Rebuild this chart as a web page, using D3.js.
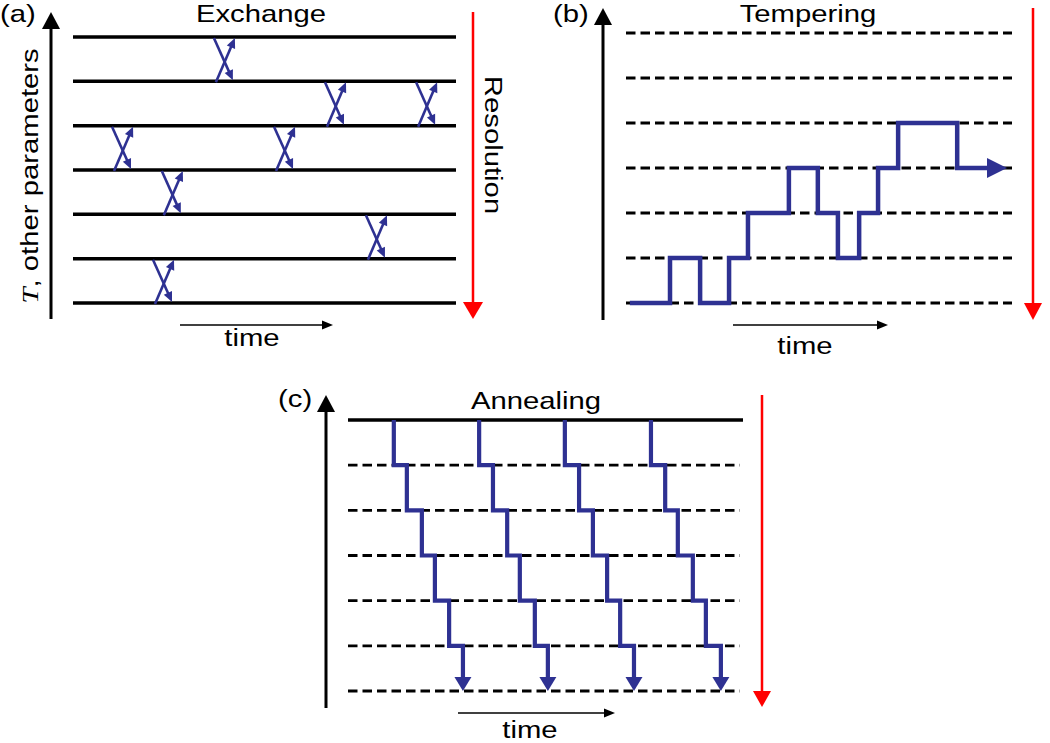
<!DOCTYPE html>
<html><head><meta charset="utf-8">
<script src="https://cdn.jsdelivr.net/npm/d3@7"></script>
<style>html,body{margin:0;padding:0;background:#fff}</style>
</head><body><svg id="c" width="1050" height="743"></svg>
<script>
// ---------------- data ----------------
const levels = [0, 1, 2, 3, 4, 5, 6];
// (a) Exchange: swap between level `lower` and `lower+1` at time t
const exchangeTimes = [39.4, 68.4, 92.2, 12.8, 55.1, 25.8, 79.1, 23.5];
const exchangeLower = [5, 4, 4, 3, 3, 2, 1, 0];
// (b) Tempering: level held from temperingTimes[i] to temperingTimes[i+1]
const temperingTimes = [1.0, 11.4, 19.2, 26.7, 31.6, 42.2, 49.7, 54.9, 60.4, 65.3, 70.5, 85.8, 98.7];
const temperingLevels = [0, 1, 0, 1, 2, 3, 2, 1, 2, 3, 4, 3];
// (c) Annealing: time of each downward step (level 6 -> 0) for each walker
const annealingWalker1 = [11.6, 14.9, 18.7, 22.0, 25.6, 29.1];
const annealingWalker2 = [33.2, 36.7, 40.3, 43.5, 47.3, 50.6];
const annealingWalker3 = [54.9, 58.5, 62.0, 65.6, 68.9, 72.4];
const annealingWalker4 = [76.7, 80.3, 83.5, 87.3, 90.6, 94.4];
const panelLabels = ["(a)", "(b)", "(c)"];
const panelTitles = ["Exchange", "Tempering", "Annealing"];
const timeLabel = "time";
const resolutionLabel = "Resolution";
const yLabelItalic = "T";
const yLabelRest = ", other parameters";

// ---------------- style ----------------
const BLUE = "#2e3192", RED = "#ff0000", BLACK = "#000";
const FONT = "'Liberation Sans', Arial, Helvetica, sans-serif";
const SX = 1.22;

const svg = d3.select("#c");

function head(g, tip, dir, len, hw, color) {
  const [tx, ty] = tip;
  const n = Math.hypot(dir[0], dir[1]);
  const ux = dir[0] / n, uy = dir[1] / n;
  const bx = tx - ux * len, by = ty - uy * len;
  const px = -uy, py = ux;
  g.append("path")
    .attr("d", `M${tx},${ty}L${bx + px * hw},${by + py * hw}L${bx - px * hw},${by - py * hw}Z`)
    .attr("fill", color);
}
function arrow(g, x1, y1, x2, y2, w, len, hw, color) {
  const n = Math.hypot(x2 - x1, y2 - y1);
  const ux = (x2 - x1) / n, uy = (y2 - y1) / n;
  g.append("line").attr("x1", x1).attr("y1", y1)
    .attr("x2", x2 - ux * (len - 1)).attr("y2", y2 - uy * (len - 1))
    .attr("stroke", color).attr("stroke-width", w);
  head(g, [x2, y2], [ux, uy], len, hw, color);
}
function label(g, txt, x, y, anchor, rot) {
  return g.append("text")
    .attr("transform", `translate(${x},${y}) rotate(${rot || 0}) scale(${SX},1)`)
    .attr("text-anchor", anchor)
    .attr("font-family", FONT).attr("font-size", 24).attr("fill", BLACK)
    .text(txt);
}

// ================= (a) Exchange =================
{
  const g = svg.append("g");
  const x = d3.scaleLinear().domain([0, 100]).range([73, 456]);
  const y = d3.scaleLinear().domain([0, 6]).range([303, 37]);
  g.selectAll("line.lev").data(levels).join("line")
    .attr("x1", x(0)).attr("x2", x(100))
    .attr("y1", d => y(d)).attr("y2", d => y(d))
    .attr("stroke", BLACK).attr("stroke-width", 3.5);
  exchangeTimes.forEach((t, i) => {
    const cx = x(t), yT = y(exchangeLower[i] + 1), yB = y(exchangeLower[i]);
    // downward walker
    arrow(g, cx - 10, yT + 1, cx + 9, yB - 1, 2.6, 10, 4.5, BLUE);
    // upward walker
    arrow(g, cx - 8, yB + 1, cx + 11, yT + 1, 2.6, 10, 4.5, BLUE);
  });
  arrow(g, 51, 319, 51, 12, 3, 17, 9, BLACK);
  arrow(g, 473, 12, 473, 319, 2.5, 17, 10, RED);
  arrow(g, 180, 325, 333, 325, 1.5, 11, 4.5, BLACK);
  label(g, panelLabels[0], 0, 22, "start");
  label(g, panelTitles[0], 261, 22, "middle");
  label(g, timeLabel, 252, 346, "middle");
  label(g, resolutionLabel, 485, 145, "middle", 90);
  const yl = g.append("text")
    .attr("transform", `translate(38,176) rotate(-90) scale(${SX},1)`)
    .attr("text-anchor", "middle")
    .attr("font-family", FONT).attr("font-size", 24).attr("fill", BLACK);
  yl.append("tspan").attr("font-family", "'Liberation Serif','DejaVu Serif',serif")
    .attr("font-style", "italic").text(yLabelItalic);
  yl.append("tspan").text(yLabelRest);
}

// ================= (b) Tempering =================
{
  const g = svg.append("g");
  const x = d3.scaleLinear().domain([0, 100]).range([626, 1012]);
  const y = d3.scaleLinear().domain([0, 6]).range([303, 33]);
  g.selectAll("line.lev").data(levels).join("line")
    .attr("x1", x(0)).attr("x2", x(100))
    .attr("y1", d => y(d)).attr("y2", d => y(d))
    .attr("stroke", BLACK).attr("stroke-width", 2.8).attr("stroke-dasharray", "9.5,5");
  const pts = temperingLevels.map((l, i) => [temperingTimes[i], l]);
  const tEnd = temperingTimes[temperingTimes.length - 1];
  const lEnd = temperingLevels[temperingLevels.length - 1];
  const hl = 20;
  pts.push([x.invert(x(tEnd) - hl + 1), lEnd]);
  const line = d3.line().x(d => x(d[0])).y(d => y(d[1])).curve(d3.curveStepAfter);
  g.append("path").attr("d", line(pts)).attr("fill", "none")
    .attr("stroke", BLUE).attr("stroke-width", 4.5).attr("stroke-linejoin", "miter");
  head(g, [x(tEnd), y(lEnd)], [1, 0], hl, 10, BLUE);
  arrow(g, 603, 320, 603, 8, 3, 17, 9, BLACK);
  arrow(g, 1033, 8, 1033, 320, 2.5, 17, 9, RED);
  arrow(g, 733, 325, 888, 325, 1.5, 11, 4.5, BLACK);
  label(g, panelLabels[1], 553, 22, "start");
  label(g, panelTitles[1], 808, 22, "middle");
  label(g, timeLabel, 805, 354, "middle");
}

// ================= (c) Annealing =================
{
  const g = svg.append("g");
  const x = d3.scaleLinear().domain([0, 100]).range([348, 743]);
  const y = d3.scaleLinear().domain([0, 6]).range([691, 420]);
  g.selectAll("line.lev").data(levels).join("line")
    .attr("x1", x(0)).attr("x2", d => d === 6 ? x(100) : x(99.2))
    .attr("y1", d => y(d)).attr("y2", d => y(d))
    .attr("stroke", BLACK).attr("stroke-width", d => d === 6 ? 3.5 : 2.8)
    .attr("stroke-dasharray", d => d === 6 ? null : "9.5,5");
  const walkers = [annealingWalker1, annealingWalker2, annealingWalker3, annealingWalker4];
  const line = d3.line().x(d => x(d[0])).y(d => y(d[1]));
  const hl = 14;
  walkers.forEach(w => {
    const pts = [[w[0], 6]];
    w.forEach((t, k) => {
      const lev = 5 - k;
      if (k > 0) pts.push([t, lev + 1]);
      pts.push([t, lev]);
    });
    const last = pts.pop();
    const yEnd = y(last[1]);
    pts.push([last[0], y.invert(yEnd - hl + 1)]);
    g.append("path").attr("d", line(pts)).attr("fill", "none")
      .attr("stroke", BLUE).attr("stroke-width", 4.2).attr("stroke-linejoin", "miter");
    head(g, [x(last[0]), yEnd], [0, 1], hl, 8.5, BLUE);
  });
  arrow(g, 326, 708, 326, 395, 3, 17, 9, BLACK);
  arrow(g, 762, 395, 762, 707, 2.5, 16, 9, RED);
  arrow(g, 458, 713, 615, 713, 1.5, 11, 4.5, BLACK);
  label(g, panelLabels[2], 278, 407, "start");
  label(g, panelTitles[2], 536, 409, "middle");
  label(g, timeLabel, 530, 738, "middle");
}
</script></body></html>
